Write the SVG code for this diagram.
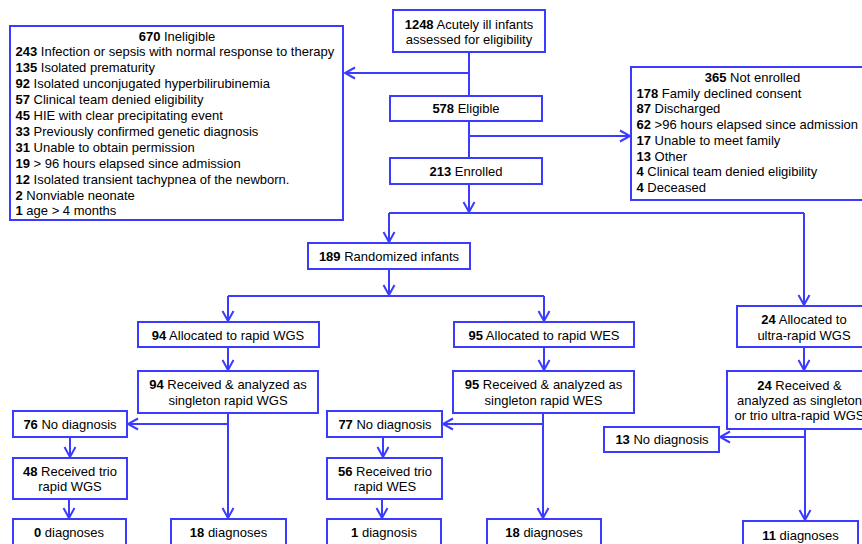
<svg xmlns="http://www.w3.org/2000/svg" width="862" height="544" viewBox="0 0 862 544">
<style>
.box{fill:#fff;stroke:#3b3bff;stroke-width:2}
.ln{fill:none;stroke:#3b3bff;stroke-width:2}
text{font-family:"Liberation Sans",Arial,sans-serif;font-size:13px;fill:#000}
.c{text-anchor:middle}
.b{font-weight:bold}
</style>
<defs>
<marker id="ar" viewBox="-12 -8 14 16" markerWidth="14" markerHeight="16" refX="0" refY="0" orient="auto" markerUnits="userSpaceOnUse">
<path d="M-10,-5.5 L0,0 L-10,5.5" fill="none" stroke="#3b3bff" stroke-width="2"/>
</marker>
</defs>
<rect width="862" height="544" fill="#fff"/>
<g id="connectors">
<path class="ln" d="M469,52 V96"/>
<path class="ln" d="M469,73 H345" marker-end="url(#ar)"/>
<path class="ln" d="M469,121 V158"/>
<path class="ln" d="M469,136 H630" marker-end="url(#ar)"/>
<path class="ln" d="M469,184 V212" marker-end="url(#ar)"/>
<path class="ln" d="M389,213 H804"/>
<path class="ln" d="M389,213 V242" marker-end="url(#ar)"/>
<path class="ln" d="M804,213 V305" marker-end="url(#ar)"/>
<path class="ln" d="M389,269 V295" marker-end="url(#ar)"/>
<path class="ln" d="M228,296 H544"/>
<path class="ln" d="M228,296 V321" marker-end="url(#ar)"/>
<path class="ln" d="M544,296 V321" marker-end="url(#ar)"/>
<path class="ln" d="M228,347 V370" marker-end="url(#ar)"/>
<path class="ln" d="M544,347 V370" marker-end="url(#ar)"/>
<path class="ln" d="M804,347 V370" marker-end="url(#ar)"/>
<path class="ln" d="M228,413 V518" marker-end="url(#ar)"/>
<path class="ln" d="M228,424 H128" marker-end="url(#ar)"/>
<path class="ln" d="M70,437 V457" marker-end="url(#ar)"/>
<path class="ln" d="M69,499 V518" marker-end="url(#ar)"/>
<path class="ln" d="M543,413 V518" marker-end="url(#ar)"/>
<path class="ln" d="M543,424 H443" marker-end="url(#ar)"/>
<path class="ln" d="M383,437 V457" marker-end="url(#ar)"/>
<path class="ln" d="M382,499 V518" marker-end="url(#ar)"/>
<path class="ln" d="M805,429 V520" marker-end="url(#ar)"/>
<path class="ln" d="M805,437 H720" marker-end="url(#ar)"/>
</g>
<g id="n-assessed">
<rect class="box" x="393" y="10" width="152" height="42"/>
<text class="c" x="469" y="28.5"><tspan class="b">1248</tspan> Acutely ill infants</text>
<text class="c" x="469" y="44">assessed for eligibility</text>
</g>
<g id="n-ineligible">
<rect class="box" x="10" y="26" width="333" height="194"/>
<text class="c" x="177" y="40.5"><tspan class="b">670</tspan> Ineligible</text>
<text x="15.5" y="56.4"><tspan class="b">243</tspan> Infection or sepsis with normal response to therapy</text>
<text x="15.5" y="72.3"><tspan class="b">135</tspan> Isolated prematurity</text>
<text x="15.5" y="88.2"><tspan class="b">92</tspan> Isolated unconjugated hyperbilirubinemia</text>
<text x="15.5" y="104.1"><tspan class="b">57</tspan> Clinical team denied eligibility</text>
<text x="15.5" y="120"><tspan class="b">45</tspan> HIE with clear precipitating event</text>
<text x="15.5" y="135.9"><tspan class="b">33</tspan> Previously confirmed genetic diagnosis</text>
<text x="15.5" y="151.8"><tspan class="b">31</tspan> Unable to obtain permission</text>
<text x="15.5" y="167.7"><tspan class="b">19</tspan> &gt; 96 hours elapsed since admission</text>
<text x="15.5" y="183.6"><tspan class="b">12</tspan> Isolated transient tachypnea of the newborn.</text>
<text x="15.5" y="199.5"><tspan class="b">2</tspan> Nonviable neonate</text>
<text x="15.5" y="215.4"><tspan class="b">1</tspan> age &gt; 4 months</text>
</g>
<g id="n-eligible">
<rect class="box" x="390" y="96" width="152" height="25"/>
<text class="c" x="466" y="113"><tspan class="b">578</tspan> Eligible</text>
</g>
<g id="n-notenrolled">
<rect class="box" x="631" y="67" width="243" height="133"/>
<text class="c" x="752.5" y="81.8"><tspan class="b">365</tspan> Not enrolled</text>
<text x="636.5" y="97.6"><tspan class="b">178</tspan> Family declined consent</text>
<text x="636.5" y="113.3"><tspan class="b">87</tspan> Discharged</text>
<text x="636.5" y="129.1"><tspan class="b">62</tspan> &gt;96 hours elapsed since admission</text>
<text x="636.5" y="144.9"><tspan class="b">17</tspan> Unable to meet family</text>
<text x="636.5" y="160.7"><tspan class="b">13</tspan> Other</text>
<text x="636.5" y="176.4"><tspan class="b">4</tspan> Clinical team denied eligibility</text>
<text x="636.5" y="192.2"><tspan class="b">4</tspan> Deceased</text>
</g>
<g id="n-enrolled">
<rect class="box" x="390" y="158" width="152" height="26"/>
<text class="c" x="466" y="176"><tspan class="b">213</tspan> Enrolled</text>
</g>
<g id="n-randomized">
<rect class="box" x="308" y="243" width="162" height="26"/>
<text class="c" x="389" y="261"><tspan class="b">189</tspan> Randomized infants</text>
</g>
<g id="n-alloc-wgs">
<rect class="box" x="138" y="322" width="181" height="25"/>
<text class="c" x="228" y="339.5"><tspan class="b">94</tspan> Allocated to rapid WGS</text>
</g>
<g id="n-alloc-wes">
<rect class="box" x="454" y="322" width="180" height="25"/>
<text class="c" x="544" y="339.5"><tspan class="b">95</tspan> Allocated to rapid WES</text>
</g>
<g id="n-alloc-ultra">
<rect class="box" x="737" y="306" width="134" height="41"/>
<text class="c" x="804" y="324"><tspan class="b">24</tspan> Allocated to</text>
<text class="c" x="804" y="339.5">ultra-rapid WGS</text>
</g>
<g id="n-recv-wgs">
<rect class="box" x="138" y="371" width="180" height="42"/>
<text class="c" x="228" y="389"><tspan class="b">94</tspan> Received &amp; analyzed as</text>
<text class="c" x="228" y="404.5">singleton rapid WGS</text>
</g>
<g id="n-recv-wes">
<rect class="box" x="453" y="371" width="181" height="42"/>
<text class="c" x="543.5" y="389"><tspan class="b">95</tspan> Received &amp; analyzed as</text>
<text class="c" x="543.5" y="404.5">singleton rapid WES</text>
</g>
<g id="n-recv-ultra">
<rect class="box" x="727" y="371" width="154" height="58"/>
<text class="c" x="799.5" y="389.5"><tspan class="b">24</tspan> Received &amp;</text>
<text class="c" x="799.5" y="404.5">analyzed as singleton</text>
<text class="c" x="799.5" y="419.5">or trio ultra-rapid WGS</text>
</g>
<g id="n-nodx-wgs">
<rect class="box" x="13" y="411" width="114" height="26"/>
<text class="c" x="70" y="428.5"><tspan class="b">76</tspan> No diagnosis</text>
</g>
<g id="n-nodx-wes">
<rect class="box" x="327" y="411" width="115" height="26"/>
<text class="c" x="385" y="428.5"><tspan class="b">77</tspan> No diagnosis</text>
</g>
<g id="n-nodx-ultra">
<rect class="box" x="604" y="427" width="115" height="25"/>
<text class="c" x="662" y="444"><tspan class="b">13</tspan> No diagnosis</text>
</g>
<g id="n-trio-wgs">
<rect class="box" x="13" y="458" width="114" height="41"/>
<text class="c" x="70" y="475.5"><tspan class="b">48</tspan> Received trio</text>
<text class="c" x="70" y="491">rapid WGS</text>
</g>
<g id="n-trio-wes">
<rect class="box" x="327" y="458" width="115" height="41"/>
<text class="c" x="385" y="475.5"><tspan class="b">56</tspan> Received trio</text>
<text class="c" x="385" y="491">rapid WES</text>
</g>
<g id="n-dx-0">
<rect class="box" x="13" y="519" width="113" height="32"/>
<text class="c" x="69" y="537"><tspan class="b">0</tspan> diagnoses</text>
</g>
<g id="n-dx-18a">
<rect class="box" x="171" y="519" width="115" height="32"/>
<text class="c" x="228.5" y="537"><tspan class="b">18</tspan> diagnoses</text>
</g>
<g id="n-dx-1">
<rect class="box" x="327" y="519" width="114" height="32"/>
<text class="c" x="384" y="537"><tspan class="b">1</tspan> diagnosis</text>
</g>
<g id="n-dx-18b">
<rect class="box" x="487" y="519" width="114" height="32"/>
<text class="c" x="544" y="537"><tspan class="b">18</tspan> diagnoses</text>
</g>
<g id="n-dx-11">
<rect class="box" x="743" y="521" width="115" height="32"/>
<text class="c" x="800.5" y="539.5"><tspan class="b">11</tspan> diagnoses</text>
</g>
</svg>
